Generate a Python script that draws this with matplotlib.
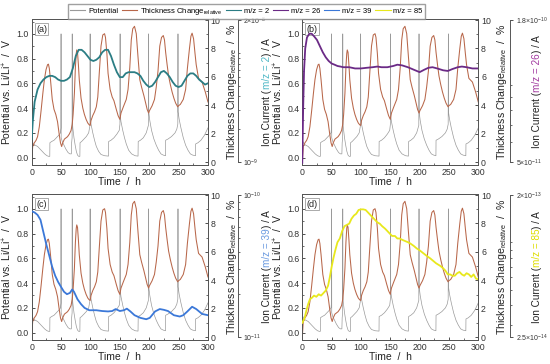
import numpy as np
import matplotlib
matplotlib.use('Agg')
import matplotlib.pyplot as plt
from matplotlib.lines import Line2D
from matplotlib.ticker import FixedLocator, FixedFormatter, MultipleLocator, NullFormatter, LogLocator

plt.rcParams['font.family'] = ['Liberation Sans', 'DejaVu Sans']
plt.rcParams['mathtext.fontset'] = 'custom'
plt.rcParams['mathtext.rm'] = 'Liberation Sans'
plt.rcParams['mathtext.it'] = 'Liberation Sans:italic'
plt.rcParams['mathtext.bf'] = 'Liberation Sans:bold'

# potential vs. Li/Li+ (same in every panel)
pot_time = [1, 3, 6, 10, 14, 18, 22, 26, 29, 30.8, 31, 34, 38, 42, 46, 49, 49.8, 50,
            50.2, 52, 55, 58, 62, 65, 67.5, 68, 68.8, 69,
            69.2, 70, 72, 74, 76, 78, 80, 82, 82.3, 85, 89, 93, 97, 99.2, 99.5,
            99.7, 101, 104, 107, 110, 114, 118, 124, 130.8, 131, 135, 140, 145, 149, 150.2, 150.5,
            150.7, 152, 155, 158, 161, 165, 170, 176, 181, 181.3, 185, 190, 195, 198.6, 199,
            199.2, 201, 204, 208, 212, 216, 220, 224, 227.8, 228, 232, 238, 244, 247, 248.7, 249,
            249.2, 251, 254, 258, 262, 266, 270, 274, 278.8, 279, 283, 288, 294, 300]
pot_volt = [0.13, 0.11, 0.10, 0.09, 0.07, 0.05, 0.03, 0.015, 0.01, 0.01, 0.12, 0.13, 0.14, 0.16, 0.18, 0.20, 0.24, 1.0,
            0.16, 0.13, 0.10, 0.07, 0.04, 0.03, 0.03, 0.12, 0.16, 1.0,
            0.30, 0.24, 0.16, 0.10, 0.05, 0.02, 0.01, 0.01, 0.12, 0.13, 0.15, 0.17, 0.20, 0.26, 1.0,
            0.32, 0.27, 0.20, 0.14, 0.09, 0.05, 0.025, 0.015, 0.012, 0.13, 0.14, 0.16, 0.19, 0.22, 0.27, 1.0,
            0.34, 0.29, 0.22, 0.16, 0.11, 0.06, 0.03, 0.015, 0.012, 0.13, 0.14, 0.16, 0.20, 0.26, 1.0,
            0.37, 0.30, 0.22, 0.15, 0.10, 0.06, 0.03, 0.02, 0.015, 0.14, 0.15, 0.17, 0.20, 0.23, 0.27, 1.0,
            0.37, 0.31, 0.24, 0.16, 0.10, 0.06, 0.03, 0.02, 0.015, 0.11, 0.12, 0.14, 0.18, 0.24]

# relative thickness change in % (same in every panel)
thk_time = [0, 1.7, 4.5, 7.4, 10, 13, 16, 19, 21.6, 24.4, 27, 28.5, 30, 32, 35, 38, 41, 44, 46.5, 49, 51,
            52.8, 55.7, 58.5, 61, 64, 67, 69, 70.5, 72.7, 74.4, 75.8, 76.7, 78, 79.5, 81, 84, 87, 89.7, 92.6, 95.5, 98, 99.5,
            101, 104, 107, 110, 112.5, 115, 118, 121, 124, 125.6, 128, 130, 133.5, 137, 140, 144, 147, 150,
            152, 156, 161, 164, 167, 169.5, 172, 175, 178, 181, 184, 187, 191, 194, 196.5, 199,
            200.5, 205, 209, 212, 215, 218, 221, 224, 226, 228, 230.5, 233, 236, 239, 242, 245, 248.5,
            250, 253, 258, 262, 265, 268.5, 271, 273, 275.5, 278, 280, 284, 290, 295.5, 300]
thk_pct = [0.0, 1.11, 1.37, 1.54, 1.80, 2.50, 3.63, 4.85, 5.81, 6.51, 6.86, 6.90, 6.60, 5.81, 4.42, 3.72, 3.37, 2.85, 2.07, 1.37, 1.11,
           1.37, 1.63, 1.72, 1.80, 1.98, 2.24, 2.68, 3.37, 4.85, 6.68, 7.64, 7.90, 7.73, 6.86, 5.81, 4.51, 3.81, 3.37, 3.02, 2.76, 2.63, 2.59,
           2.94, 3.29, 3.55, 3.90, 4.59, 6.25, 8.17, 8.95, 9.04, 8.78, 7.64, 6.25, 5.12, 4.59, 4.33, 3.72, 3.29, 3.02,
           3.46, 3.90, 4.42, 5.12, 6.68, 8.60, 9.39, 9.56, 9.04, 7.38, 5.81, 5.29, 4.68, 4.16, 3.72, 3.46,
           3.63, 3.98, 4.42, 5.29, 6.42, 8.17, 8.78, 8.91, 8.60, 7.73, 6.86, 6.07, 5.46, 4.94, 4.51, 4.16, 3.90,
           3.98, 4.07, 4.42, 5.12, 6.60, 7.99, 8.86, 9.08, 8.69, 7.64, 6.86, 5.90, 5.64, 4.94, 4.24]

# ion currents / A
mz2_time = [0, 2, 5, 10, 15, 20, 25, 30, 35, 40, 45, 50, 55, 60, 65, 70, 75, 80, 85, 90, 95, 100,
            105, 110, 115, 120, 125, 130, 135, 140, 145, 150, 155, 160, 165, 170, 175, 180, 185, 190,
            195, 200, 205, 210, 215, 220, 225, 230, 235, 240, 245, 250, 255, 260, 265, 270, 275, 280,
            285, 290, 295, 300]
mz2_ion = np.array([1.63, 2.41, 3.57, 4.63, 5.28, 5.71, 6.01, 6.17, 6.17, 6.01, 5.71, 5.56, 5.56, 5.71, 6.01,
                    7.22, 9.37, 10.68, 10.68, 10.13, 9.37, 8.66, 8.44, 8.66, 9.13, 10.13, 10.68, 10.68, 9.37,
                    7.81, 6.67, 6.01, 6.01, 6.50, 6.67, 6.67, 6.67, 6.50, 6.17, 5.56, 5.14, 4.88, 5.01, 5.42,
                    6.01, 6.67, 6.85, 6.50, 6.01, 5.42, 5.01, 4.88, 5.01, 5.56, 6.17, 6.50, 6.50, 6.17, 5.71,
                    5.42, 5.14, 5.28]) * 1e-9

mz26_time = [0, 1.5, 3, 5, 8, 12, 16, 20, 25, 30, 35, 40, 45, 50, 55, 60, 65, 70, 80, 90, 100, 110,
             120, 128, 135, 145, 155, 162, 170, 180, 190, 200, 208, 215, 222, 230, 240, 248, 256, 265,
             272, 280, 290, 300]
mz26_ion = np.array([4.98, 8.14, 11.38, 13.92, 15.39, 15.91, 15.91, 15.56, 15.05, 14.23, 13.46, 12.87,
                     12.45, 12.17, 12.04, 11.90, 11.84, 11.77, 11.77, 11.64, 11.64, 11.71, 11.77, 11.84,
                     11.77, 11.77, 11.90, 12.04, 11.97, 11.77, 11.51, 11.26, 11.51, 11.71, 11.77, 11.64,
                     11.45, 11.38, 11.58, 11.77, 11.84, 11.77, 11.64, 11.64]) * 1e-11

mz39_time = [0, 5, 10, 15, 20, 25, 30, 35, 40, 45, 50, 55, 60, 65, 69, 72, 78, 84, 90, 98, 110, 120,
             130, 137, 143, 150, 157, 162, 168, 175, 185, 195, 201, 210, 218, 225, 232, 242, 252, 258,
             265, 273, 280, 290, 300]
mz39_ion = np.array([7.70, 7.54, 7.25, 6.69, 5.47, 4.48, 3.74, 3.12, 2.71, 2.45, 2.26, 2.09, 2.01, 2.05,
                     2.17, 2.09, 1.85, 1.71, 1.61, 1.55, 1.55, 1.53, 1.52, 1.53, 1.58, 1.53, 1.55, 1.59,
                     1.52, 1.43, 1.37, 1.34, 1.37, 1.52, 1.58, 1.56, 1.53, 1.43, 1.40, 1.43, 1.52, 1.64,
                     1.58, 1.46, 1.43]) * 1e-11

mz85_time = [0, 4, 7, 10, 13, 16, 20, 24, 28, 32, 36, 40, 44, 47, 50, 53, 56, 60, 64, 68, 72, 76, 80,
             84, 88, 92, 96, 100, 104, 108, 112, 116, 120, 124, 128, 132, 136, 141, 145, 149, 153, 158,
             162, 166, 170, 175, 180, 184, 190, 195, 200, 204, 208, 212, 218, 223, 228, 235, 240, 244,
             248, 252, 256, 260, 264, 268, 272, 276, 280, 284, 288, 292, 296, 300]
mz85_ion = np.array([3.09, 3.32, 3.70, 4.06, 4.36, 4.44, 4.60, 4.52, 4.69, 4.60, 4.77, 4.95, 5.32, 6.04,
                     6.99, 7.93, 8.84, 10.04, 10.60, 11.82, 12.70, 12.93, 13.17, 14.16, 14.82, 15.22,
                     16.08, 16.22, 16.22, 16.08, 15.51, 14.95, 14.42, 13.91, 13.41, 13.17, 12.70, 12.25,
                     11.82, 11.40, 11.00, 10.99, 10.60, 10.60, 10.41, 10.22, 10.04, 9.86, 9.51, 9.17,
                     8.92, 8.68, 8.45, 8.22, 7.93, 7.65, 7.38, 7.11, 6.86, 6.62, 6.27, 6.27, 6.15, 6.15,
                     6.38, 6.50, 6.27, 6.15, 6.38, 6.27, 6.04, 6.27, 5.90, 5.83]) * 1e-14

# ion current axis ranges and their tick labels
ion_limits = [(1e-9, 2e-8), (5e-11, 1.8e-10), (1e-11, 1e-10), (2.5e-14, 2e-13)]
ion_ticklabels = [(r'10$^{-9}$', r'2×10$^{-8}$'), (r'5×10$^{-11}$', r'1.8×10$^{-10}$'),
                  (r'10$^{-11}$', r'10$^{-10}$'), (r'2.5×10$^{-14}$', r'2×10$^{-13}$')]
mz_names = ['m/z = 2', 'm/z = 26', 'm/z = 39', 'm/z = 85']
letters = ['(a)', '(b)', '(c)', '(d)']

line_colors = ['#2b7d84', '#6b2a86', '#3b78d8', '#e8e81c']
text_colors = ['#4fb8c6', '#a23aa0', '#6a9ae0', '#dede00']
pot_color = '#9a9a9a'
thk_color = '#b8674a'
ink = '#333333'

fig = plt.figure(figsize=(5.5, 3.64), dpi=100)
rects = [[0.0576, 0.5467, 0.3205, 0.401], [0.5496, 0.5467, 0.32, 0.401],
         [0.0576, 0.0659, 0.3205, 0.401], [0.5496, 0.0659, 0.32, 0.401]]
series = [(mz2_time, mz2_ion), (mz26_time, mz26_ion), (mz39_time, mz39_ion), (mz85_time, mz85_ion)]


def rainbow_label(ax, x, pieces, colors, size):
    renderer = ax.figure.canvas.get_renderer()
    texts = [ax.text(x, 0, s, transform=ax.transAxes, rotation=90, color=c, fontsize=size,
                     ha='center', va='bottom') for s, c in zip(pieces, colors)]
    h_ax = ax.get_window_extent(renderer).height
    lengths = [t.get_window_extent(renderer).height / h_ax for t in texts]
    y = 0.5 - sum(lengths) / 2
    for t, L in zip(texts, lengths):
        t.set_y(y)
        y += L


for i in range(4):
    ax = fig.add_axes(rects[i])
    ax.plot(pot_time, pot_volt, color=pot_color, lw=0.5)
    ax.set_xlim(0, 300)
    ax.set_ylim(-0.06, 1.12)
    ax.xaxis.set_major_locator(MultipleLocator(50))
    ax.xaxis.set_minor_locator(MultipleLocator(25))
    ax.yaxis.set_major_locator(MultipleLocator(0.2))
    ax.yaxis.set_minor_locator(MultipleLocator(0.1))
    ax.yaxis.set_major_formatter(matplotlib.ticker.FormatStrFormatter('%.1f'))
    ax.tick_params(which='both', direction='in', labelsize=6.3, colors=ink, top=False, pad=2)
    ax.tick_params(which='major', length=2.5, width=0.6)
    ax.tick_params(which='minor', length=1.5, width=0.5)
    ax.set_xlabel('Time  /  h', fontsize=7.5, color='#222')
    ax.xaxis.set_label_coords(0.5, -0.085)
    ax.set_ylabel('Potential vs. Li/Li$^{+}$  /  V', fontsize=7.5, color='#222')
    ax.yaxis.set_label_coords(-0.1, 0.5)
    for sp in ax.spines.values():
        sp.set_color('#555555')
        sp.set_linewidth(0.7)
    ax.text(0.025, 0.93, letters[i], transform=ax.transAxes, fontsize=6.5, color='#222', va='center',
            bbox=dict(boxstyle='square,pad=0.15', fc='white', ec='#888888', lw=0.5))

    ax2 = ax.twinx()
    ax2.plot(thk_time, thk_pct, color=thk_color, lw=0.75)
    ax2.set_ylim(-0.19, 10.07)
    ax2.yaxis.set_major_locator(MultipleLocator(2))
    ax2.yaxis.set_minor_locator(MultipleLocator(1))
    ax2.tick_params(which='both', direction='in', labelsize=6.3, colors=ink, pad=2)
    ax2.tick_params(which='major', length=2.5, width=0.6)
    ax2.tick_params(which='minor', length=1.5, width=0.5)
    ax2.set_ylabel('Thickness Change$_{\\mathrm{relative}}$  /  %', fontsize=7.6, color='#222')
    ax2.yaxis.set_label_coords(1.095, 0.5)
    for sp in ax2.spines.values():
        sp.set_color('#555555')
        sp.set_linewidth(0.7)

    lo, hi = ion_limits[i]
    r = hi / lo
    ax3 = ax.twinx()
    ax3.set_yscale('log')
    ax3.plot(series[i][0], series[i][1], color=line_colors[i], lw=1.3)
    ax3.set_ylim(lo / r ** 0.019, hi * r ** 0.007)
    for side in ['top', 'bottom', 'left']:
        ax3.spines[side].set_visible(False)
    ax3.spines['right'].set_position(('axes', 1.17 if i % 2 == 0 else 1.18))
    ax3.spines['right'].set_bounds(lo, hi)
    ax3.spines['right'].set_color('#555555')
    ax3.spines['right'].set_linewidth(0.7)
    ax3.yaxis.set_major_locator(FixedLocator([lo, hi]))
    ax3.yaxis.set_major_formatter(FixedFormatter(list(ion_ticklabels[i])))
    ax3.yaxis.set_minor_locator(LogLocator(base=10, subs=np.arange(1, 10)))
    ax3.yaxis.set_minor_formatter(NullFormatter())
    ax3.tick_params(which='both', direction='out', labelsize=5, colors=ink, pad=1.5)
    ax3.tick_params(which='major', length=2.5, width=0.6)
    ax3.tick_params(which='minor', length=1.5, width=0.5)
    rainbow_label(ax, 1.335, ['Ion Current (', mz_names[i], ') / A'],
                  ['#222222', text_colors[i], '#222222'], 7.2)

handles = [Line2D([], [], color=pot_color, lw=0.8), Line2D([], [], color=thk_color, lw=0.8)]
handles += [Line2D([], [], color=c, lw=0.8) for c in line_colors]
labels = ['Potential', 'Thickness Change$_{\\mathrm{relative}}$'] + mz_names
fig.legend(handles, labels, loc='upper center', bbox_to_anchor=(0.448, 1.0), ncol=6, fontsize=5.5,
           frameon=True, fancybox=False, edgecolor='#888888', handlelength=2.0, columnspacing=0.5,
           handletextpad=0.35, borderpad=0.3)

fig.savefig('out.png', dpi=100)
